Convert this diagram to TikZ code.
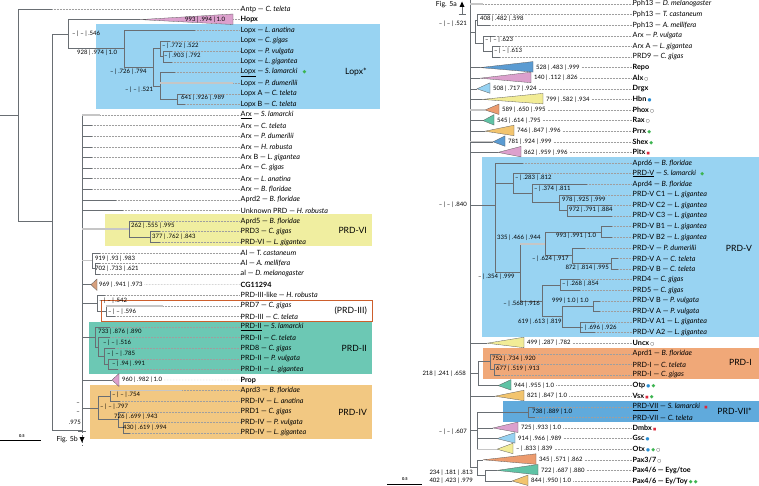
\documentclass[tikz,border=0pt]{standalone}
\usepackage{fontspec}
\setmainfont{Lato}
\newfontfamily\symf{DejaVu Sans}
\usetikzlibrary{calc}
\definecolor{bxblue}{RGB}{152,211,242}
\definecolor{bxyel}{RGB}{240,238,160}
\definecolor{bxteal}{RGB}{108,200,180}
\definecolor{bxtan}{RGB}{242,200,130}
\definecolor{bxsal}{RGB}{240,168,120}
\definecolor{bxvii}{RGB}{96,170,220}
\definecolor{bxorl}{RGB}{205,95,45}
\definecolor{tblue}{RGB}{90,155,210}
\definecolor{tpink}{RGB}{220,160,205}
\definecolor{tlblue}{RGB}{150,210,242}
\definecolor{tyel}{RGB}{242,236,150}
\definecolor{tsal}{RGB}{236,155,110}
\definecolor{tteal}{RGB}{95,195,165}
\definecolor{ttan}{RGB}{242,196,110}
\definecolor{tbrown}{RGB}{215,160,125}
\definecolor{dgreen}{RGB}{60,180,80}
\definecolor{dblue}{RGB}{40,140,210}
\definecolor{dred}{RGB}{220,40,60}
\definecolor{brgray}{RGB}{105,110,115}
\newcommand{\leaffont}{\fontsize{7.2}{8}\selectfont}
\newcommand{\suppfont}{\fontsize{6}{7}\selectfont}
\newcommand{\boxfont}{\fontsize{8.6}{10}\selectfont}
\newcommand{\spn}[1]{\textit{#1}}
\newcommand{\symGD}{\,{\symf\fontsize{5}{5}\selectfont\color{dgreen}◆}}
\newcommand{\symBC}{\,{\symf\fontsize{4.5}{5}\selectfont\color{dblue}●}}
\newcommand{\symOC}{\,{\symf\fontsize{4.5}{5}\selectfont ○}}
\newcommand{\symRS}{\,{\symf\fontsize{3.5}{5}\selectfont\color{dred}■}}
\newcommand{\lleaf}[4]{%
  \node[lab] (#1) at (240,{9+10.6*#2}) {#4};
  \coordinate (#1e) at (#3,{9+10.6*#2});
  \draw[dots] (#1e) -- (#1.west);}
\newcommand{\lname}[3]{%
  \node[lab] (#1) at (240,{9+10.6*#2}) {#3};}
\newcommand{\rleaf}[4]{%
  \node[lab] (#1) at (632,{4+10.6*#2}) {#4};
  \coordinate (#1e) at (#3,{4+10.6*#2});
  \draw[dots] (#1e) -- (#1.west);}
\newcommand{\rtri}[7]{%
  \node[lab] (#1) at (632,{4+10.6*#2}) {#7};
  \coordinate (#1a) at (#3,{4+10.6*#2});
  \filldraw[clade, fill=#5] (#1a) -- (#4,{4+10.6*#2-6}) -- (#4,{4+10.6*#2+4.5}) -- cycle;
  \node[supp] (#1s) at ({#4+3},{4+10.6*#2}) {#6};
  \draw[dots] ([xshift=2pt]#1s.east) -- (#1.west);}
\tikzset{
  br/.style={draw=brgray, line width=0.55pt},
  thk/.style={draw=gray!45, line width=1.4pt},
  dots/.style={draw=gray!75, line width=0.35pt, dash pattern=on 0.5pt off 1pt},
  lab/.style={anchor=west, inner sep=0.5pt, font=\leaffont},
  supp/.style={anchor=west, inner sep=0pt, font=\suppfont},
  suppr/.style={anchor=east, inner sep=0pt, font=\suppfont},
  boxlab/.style={anchor=east, inner sep=0pt, font=\boxfont},
  clade/.style={draw=black!65, line width=0.3pt},
  figlab/.style={anchor=east, inner sep=0pt, font=\fontsize{7}{8}\selectfont},
  scl/.style={inner sep=0pt, font=\bfseries\fontsize{4}{5}\selectfont}
}
\begin{document}
\begin{tikzpicture}[x=1pt,y=-1pt]
\useasboundingbox (0,0) rectangle (759,486);
% ---------- boxes ----------
\fill[bxblue] (96,24) rectangle (380,109);
\fill[bxyel] (105,214) rectangle (372,246);
\fill[bxteal] (89,322) rectangle (372,374);
\fill[bxtan] (90,385) rectangle (372,439);
\fill[bxblue] (482,157) rectangle (759,337);
\fill[bxsal] (483,348) rectangle (759,379);
\fill[bxvii] (503,401) rectangle (759,422);
\node[boxlab] (bl1) at (367,72) {Lopx*};
\node[boxlab] (bl2) at (367,230) {PRD-VI};
\node[boxlab] (bl3) at (367,311) {(PRD-III)};
\node[boxlab] (bl4) at (367,348) {PRD-II};
\node[boxlab] (bl5) at (367,412) {PRD-IV};
\node[boxlab] (bl6) at (752,248) {PRD-V};
\node[boxlab] (bl7) at (752,362) {PRD-I};
\node[boxlab] (bl8) at (752,411) {PRD-VII*};
% ---------- left tree: coordinates ----------
\coordinate (r0) at (0,115);
\coordinate (r) at (18,115);
\coordinate (n52) at (52,221);
\coordinate (n68) at (68,34.2);
\coordinate (hopxa) at (140,19.6);
\coordinate (nLopx) at (124,48.75);
\coordinate (n153) at (153,67.3);
\coordinate (n160a) at (160,48.75);
\coordinate (n163) at (163,56.7);
\coordinate (n160b) at (160,85.85);
\coordinate (n177) at (177,99.1);
\coordinate (nArx) at (82,430);
\coordinate (n129) at (129,228.95);
\coordinate (n150) at (150,236.9);
\coordinate (n92) at (92,260.75);
\coordinate (n95) at (95,268.7);
\coordinate (cga) at (91,284.6);
\coordinate (n97) at (97,303.15);
\coordinate (n106) at (106,311.1);
\coordinate (n95b) at (95,336.9);
\coordinate (n98) at (98,346.9);
\coordinate (n104) at (104,356.15);
\coordinate (n108) at (108.5,364.1);
\coordinate (propa) at (112,380);
\coordinate (n98b) at (98,407.8);
\coordinate (n110) at (110,395.9);
\coordinate (n118) at (118,419.75);
\coordinate (n123) at (123,427.7);
% ---------- left leaves ----------
\lleaf{antp}{0}{52}{Antp — \spn{C. teleta}}
\lleaf{hopx}{1}{233}{\textbf{Hopx}}
\lleaf{lo1}{2}{195}{Lopx — \spn{L. anatina}}
\lleaf{lo2}{3}{170}{Lopx — \spn{C. gigas}}
\lleaf{lo3}{4}{172}{Lopx — \spn{P. vulgata}}
\lleaf{lo4}{5}{172}{Lopx — \spn{L. gigantea}}
\lleaf{lo5}{6}{175}{\underline{Lopx} — \spn{S. lamarcki}\hspace{4pt}\symGD}
\lleaf{lo6}{7}{233}{Lopx — \spn{P. dumerilii}}
\lleaf{lo7}{8}{185}{Lopx A — \spn{C. teleta}}
\lleaf{lo8}{9}{185}{Lopx B — \spn{C. teleta}}
\lleaf{ax1}{10}{100}{\underline{Arx} — \spn{S. lamarcki}}
\lleaf{ax2}{11}{92}{Arx — \spn{C. teleta}}
\lleaf{ax3}{12}{92}{Arx — \spn{P. dumerilii}}
\lleaf{ax4}{13}{92}{Arx — \spn{H. robusta}}
\lleaf{ax5}{14}{92}{Arx B — \spn{L. gigantea}}
\lleaf{ax6}{15}{92}{Arx — \spn{C. gigas}}
\lleaf{ax7}{16}{92}{Arx — \spn{L. anatina}}
\lleaf{ax8}{17}{92}{Arx — \spn{B. floridae}}
\lleaf{ap2}{18}{116}{Aprd2 — \spn{B. floridae}}
\lleaf{unk}{19}{123}{Unknown PRD — \spn{H. robusta}}
\lleaf{ap5}{20}{150}{Aprd5 — \spn{B. floridae}}
\lleaf{prd3}{21}{160}{PRD3 — \spn{C. gigas}}
\lleaf{prd6}{22}{160}{PRD-VI — \spn{L. gigantea}}
\lleaf{al1}{23}{100}{Al — \spn{T. castaneum}}
\lleaf{al2}{24}{100}{Al — \spn{A. mellifera}}
\lleaf{al3}{25}{100}{al — \spn{D. melanogaster}}
\lname{cg}{26}{\textbf{CG11294}}
\lleaf{p3a}{27}{105}{PRD-III-like — \spn{H. robusta}}
\lleaf{p3b}{28}{163}{PRD7 — \spn{C. gigas}}
\lleaf{p3c}{29}{115}{PRD-III — \spn{C. teleta}}
\lleaf{p2a}{30}{110}{\underline{PRD-II} — \spn{S. lamarcki}}
\lleaf{p2b}{31}{110}{PRD-II — \spn{C. teleta}}
\lleaf{p2c}{32}{115}{PRD8 — \spn{C. gigas}}
\lleaf{p2d}{33}{118}{PRD-II — \spn{P. vulgata}}
\lleaf{p2e}{34}{118}{PRD-II — \spn{L. gigantea}}
\lname{prop}{35}{\textbf{Prop}}
\lleaf{p4a}{36}{182}{Aprd3 — \spn{B. floridae}}
\lleaf{p4b}{37}{120}{PRD-IV — \spn{L. anatina}}
\lleaf{p4c}{38}{125}{PRD1 — \spn{C. gigas}}
\lleaf{p4d}{39}{130}{PRD-IV — \spn{P. vulgata}}
\lleaf{p4e}{40}{130}{PRD-IV — \spn{L. gigantea}}
% ---------- left branches ----------
\draw[br] (r0) -- (r);
\draw[br] (r) |- (antpe);
\draw[br] (r) |- (n52);
\draw[br] (n52) |- (n68);
\draw[br] (n52) |- (nArx);
\draw[br] (n68) |- (hopxa);
\draw[br] (n68) |- (nLopx);
\draw[br] (nLopx) |- (lo1e);
\draw[br] (nLopx) |- (n153);
\draw[br] (n153) |- (n160a);
\draw[br] (n153) |- (n160b);
\draw[br] (n160a) |- (lo2e);
\draw[br] (n160a) |- (n163);
\draw[br] (n163) |- (lo3e);
\draw[br] (n163) |- (lo4e);
\draw[br] (n160b) |- (lo5e);
\draw[br] (n160b) |- (lo6e);
\draw[br] (n160b) |- (n177);
\draw[br] (n177) |- (lo7e);
\draw[br] (n177) |- (lo8e);
\foreach \a in {ax1e,ax2e,ax3e,ax4e,ax5e,ax6e,ax7e,ax8e,ap2e,unke,n129,n92,cga,n97,n95b,propa,n98b}
  \draw[br] (nArx) |- (\a);
\draw[br] (n129) |- (ap5e);
\draw[br] (n129) |- (n150);
\draw[br] (n150) |- (prd3e);
\draw[br] (n150) |- (prd6e);
\draw[br] (n92) |- (al1e);
\draw[br] (n92) |- (n95);
\draw[br] (n95) |- (al2e);
\draw[br] (n95) |- (al3e);
\draw[br] (n97) |- (p3ae);
\draw[br] (n97) |- (n106);
\draw[br] (n106) |- (p3be);
\draw[br] (n106) |- (p3ce);
\draw[br] (n95b) |- (p2ae);
\draw[br] (n95b) |- (n98);
\draw[br] (n98) |- (p2be);
\draw[br] (n98) |- (n104);
\draw[br] (n104) |- (p2ce);
\draw[br] (n104) |- (n108);
\draw[br] (n108) |- (p2de);
\draw[br] (n108) |- (p2ee);
\draw[br] (n98b) |- (n110);
\draw[br] (n98b) |- (n118);
\draw[br] (n110) |- (p4ae);
\draw[br] (n110) |- (p4be);
\draw[br] (n118) |- (p4ce);
\draw[br] (n118) |- (n123);
\draw[br] (n123) |- (p4de);
\draw[br] (n123) |- (p4ee);
\draw[thk] (nArx |- ax1e) -- (ax1e);
\draw[thk] (n160b |- lo6e) -- (lo6e);
\draw[thk] (nArx |- n129) -- (n129);
\draw[thk] (nArx |- n92) -- (n92);
\draw[thk] (n106 |- p3be) -- (p3be);
\draw[thk] (n110 |- p4ae) -- (p4ae);
\draw[bxorl, line width=0.6pt] (101,300) rectangle (372,321);
% left triangles
\filldraw[clade, fill=tpink] (hopxa) -- (233,14) -- (233,24.5) -- cycle;
\filldraw[clade, fill=tbrown] (cga) -- (97,279) -- (97,290.5) -- cycle;
\filldraw[clade, fill=tpink] (propa) -- (119,373.5) -- (119,386.5) -- cycle;
% left support values
\node[supp] (s1) at (185,19.6) {993 | .994 | 1.0};
\node[supp] (s2) at (72,34) {– | – | .546};
\node[supp] (s3) at (77,53) {928 | .974 | 1.0};
\node[supp] (s4) at (162,45.5) {– | .772 | .522};
\node[supp] (s5) at (164,56) {– | .903 | .792};
\node[supp] (s6) at (110,72) {– | .726 | .794};
\node[supp] (s7) at (125,90) {– | – | .521};
\node[supp] (s8) at (181,98) {641 | .926 | .989};
\node[supp] (s9) at (131,226) {262 | .555 | .995};
\node[supp] (s10) at (152,237) {377 | .762 | .843};
\node[supp] (s11) at (95,258.5) {919 | .93 | .983};
\node[supp] (s12) at (95,269) {702 | .733 | .621};
\node[supp] (cgs) at (99,284.6) {969 | .941 | .973};
\node[supp] (s13) at (99,300.5) {– | – | .542};
\node[supp] (s14) at (108,311.5) {– | – | .596};
\node[supp] (s15) at (98,332) {733 | .876 | .890};
\node[supp] (s16) at (103,343) {– | – | .516};
\node[supp] (s17) at (107,353.5) {– | – | .785};
\node[supp] (s18) at (112,364) {– | .94 | .991};
\node[supp] (props) at (122,380) {960 | .982 | 1.0};
\node[supp] (s19) at (112,395) {– | – | .754};
\node[supp] (s20) at (100,407) {– | – | .797};
\node[supp] (s21) at (114,417) {726 | .699 | .943};
\node[supp] (s22) at (123,428) {430 | .619 | .994};
\node[suppr] (s23) at (80,404) {–};
\node[suppr] (s24) at (80,413) {–};
\node[suppr] (s25) at (81,422) {.975};
\draw[dots] ([xshift=2pt]cgs.east) -- (cg.west);
\draw[dots] ([xshift=2pt]props.east) -- (prop.west);
% Fig. 5b continuation
\coordinate (f5b) at (82,446);
\draw[br, densely dashed] (nArx) -- (f5b);
\draw[br] (78,431) -- (86,431);
\fill[black] (79.5,437) -- (84.5,437) -- (82,442.5) -- cycle;
\node[figlab] (fig5b) at (78,440) {Fig. 5b};
% scale bar left
\coordinate (sb1) at (0,440);
\coordinate (sb2) at (41,440);
\draw[br, black] (sb1) -- (sb2);
\node[scl] (sbl) at (22,436) {0.5};
% ---------- right tree: coordinates ----------
\coordinate (nBtop) at (470,0);
\coordinate (nB) at (470,467.75);
\coordinate (nS) at (475,31.8);
\coordinate (nP) at (477,19.9);
\coordinate (nQ) at (483,43.75);
\coordinate (nR) at (492,51.7);
\coordinate (nV) at (495,205);
\coordinate (nX) at (513,183.55);
\coordinate (nY) at (532,193.5);
\coordinate (nZ) at (559,202.75);
\coordinate (nZ2) at (567,210.7);
\coordinate (nAA) at (520,272.3);
\coordinate (nBB) at (545,243.8);
\coordinate (nBB1) at (601,231.9);
\coordinate (nDD) at (572,255.75);
\coordinate (nEE) at (611,263.7);
\coordinate (nFF) at (542,300.8);
\coordinate (nGG) at (560,284.9);
\coordinate (nHH) at (562,316.7);
\coordinate (nII) at (593,306.1);
\coordinate (nJJ) at (580,327.3);
\coordinate (nMM) at (478,373.7);
\coordinate (nKK) at (490,361.75);
\coordinate (nLL) at (494,369.7);
\coordinate (nNN) at (477,430.65);
\coordinate (nOO) at (528,412.1);
\coordinate (nT) at (477,467.75);
\coordinate (nU) at (485,475.7);
% ---------- right leaves ----------
\rleaf{ph1}{0}{483}{Pph13 — \spn{D. melanogaster}}
\rleaf{ph2}{1}{490}{Pph13 — \spn{T. castaneum}}
\rleaf{ph3}{2}{490}{Pph13 — \spn{A. mellifera}}
\rleaf{ra1}{3}{495}{Arx — \spn{P. vulgata}}
\rleaf{ra2}{4}{500}{Arx A — \spn{L. gigantea}}
\rleaf{ra3}{5}{500}{PRD9 — \spn{C. gigas}}
\rleaf{v1}{15}{523}{Aprd6 — \spn{B. floridae}}
\rleaf{v2}{16}{540}{\underline{PRD-V} — \spn{S. lamarcki}\hspace{3pt}\symGD}
\rleaf{v3}{17}{587}{Aprd4 — \spn{B. floridae}}
\rleaf{v4}{18}{600}{PRD-V C1 — \spn{L. gigantea}}
\rleaf{v5}{19}{612}{PRD-V C2 — \spn{L. gigantea}}
\rleaf{v6}{20}{612}{PRD-V C3 — \spn{L. gigantea}}
\rleaf{v7}{21}{612}{PRD-V B1 — \spn{L. gigantea}}
\rleaf{v8}{22}{612}{PRD-V B2 — \spn{L. gigantea}}
\rleaf{v9}{23}{585}{PRD-V — \spn{P. dumerilii}}
\rleaf{v10}{24}{618}{PRD-V A — \spn{C. teleta}}
\rleaf{v11}{25}{618}{PRD-V B — \spn{C. teleta}}
\rleaf{v12}{26}{580}{PRD4 — \spn{C. gigas}}
\rleaf{v13}{27}{580}{PRD5 — \spn{C. gigas}}
\rleaf{v14}{28}{600}{PRD-V B — \spn{P. vulgata}}
\rleaf{v15}{29}{600}{PRD-V A — \spn{P. vulgata}}
\rleaf{v16}{30}{595}{PRD-V A1 — \spn{L. gigantea}}
\rleaf{v17}{31}{595}{PRD-V A2 — \spn{L. gigantea}}
\rleaf{i1}{33}{500}{Aprd1 — \spn{B. floridae}}
\rleaf{i2}{34}{500}{PRD-I — \spn{C. teleta}}
\rleaf{i3}{35}{500}{PRD-I — \spn{C. gigas}}
\rleaf{vii1}{38}{535}{\underline{PRD-VII} — \spn{S. lamarcki}\hspace{3pt}\symRS}
\rleaf{vii2}{39}{535}{PRD-VII — \spn{C. teleta}}
% ---------- right branches ----------
\draw[br] (nBtop) -- (nB);
\foreach \a in {ph1e,nS,nV,nMM,nNN,nT}
  \draw[br] (nB) |- (\a);
\draw[br] (nS) |- (nP);
\draw[br] (nS) |- (nQ);
\draw[br] (nP) |- (ph2e);
\draw[br] (nP) |- (ph3e);
\draw[br] (nQ) |- (ra1e);
\draw[br] (nQ) |- (nR);
\draw[br] (nR) |- (ra2e);
\draw[br] (nR) |- (ra3e);
\draw[br] (nV) |- (v1e);
\draw[br] (nV) |- (nX);
\draw[br] (nV) |- (nAA);
\draw[br] (nX) |- (v2e);
\draw[br] (nX) |- (nY);
\draw[br] (nY) |- (v3e);
\draw[br] (nY) |- (nZ);
\draw[br] (nZ) |- (v4e);
\draw[br] (nZ) |- (nZ2);
\draw[br] (nZ2) |- (v5e);
\draw[br] (nZ2) |- (v6e);
\draw[br] (nAA) |- (nBB);
\draw[br] (nAA) |- (nFF);
\draw[br] (nBB) |- (nBB1);
\draw[br] (nBB) |- (nDD);
\draw[br] (nBB1) |- (v7e);
\draw[br] (nBB1) |- (v8e);
\draw[br] (nDD) |- (v9e);
\draw[br] (nDD) |- (nEE);
\draw[br] (nEE) |- (v10e);
\draw[br] (nEE) |- (v11e);
\draw[br] (nFF) |- (nGG);
\draw[br] (nFF) |- (nHH);
\draw[br] (nGG) |- (v12e);
\draw[br] (nGG) |- (v13e);
\draw[br] (nHH) |- (nII);
\draw[br] (nHH) |- (nJJ);
\draw[br] (nII) |- (v14e);
\draw[br] (nII) |- (v15e);
\draw[br] (nJJ) |- (v16e);
\draw[br] (nJJ) |- (v17e);
\draw[br] (nMM) |- (nKK);
\draw[br] (nKK) |- (i1e);
\draw[br] (nKK) |- (nLL);
\draw[br] (nLL) |- (i2e);
\draw[br] (nLL) |- (i3e);
\draw[br] (nNN) |- (nOO);
\draw[br] (nOO) |- (vii1e);
\draw[br] (nOO) |- (vii2e);
\draw[br] (nT) |- (nU);
% triangle clades
\rtri{repo}{6}{480}{533}{tblue}{528 | .483 | .999}{\textbf{Repo}}
\rtri{alx}{7}{480}{531}{tpink}{140 | .112 | .826}{\textbf{Alx}\symOC}
\rtri{drgx}{8}{477}{490}{tlblue}{508 | .717 | .924}{\textbf{Drgx}}
\rtri{hbn}{9}{482}{543}{tyel}{799 | .582 | .934}{\textbf{Hbn}\symBC}
\rtri{phox}{10}{485}{499}{tsal}{589 | .650 | .995}{\textbf{Phox}\symOC}
\rtri{rax}{11}{483}{494}{tteal}{545 | .614 | .795}{\textbf{Rax}\symOC}
\rtri{prrx}{12}{485}{514}{ttan}{746 | .847 | .996}{\textbf{Prrx}\symGD}
\rtri{shex}{13}{493}{505}{tblue}{781 | .924 | .999}{\textbf{Shex}\symGD}
\rtri{pitx}{14}{498}{521}{tpink}{862 | .959 | .996}{\textbf{Pitx}\symRS}
\rtri{uncx}{32}{487}{524}{tyel}{499 | .287 | .782}{\textbf{Uncx}\symOC}
\rtri{otp}{36}{498}{511}{tteal}{944 | .955 | 1.0}{\textbf{Otp}\symBC\symGD}
\rtri{vsx}{37}{495}{524}{ttan}{821 | .847 | 1.0}{\textbf{Vsx}\symRS\symGD}
\rtri{dmbx}{40}{493}{518}{tpink}{725 | .933 | 1.0}{\textbf{Dmbx}\symRS}
\rtri{gsc}{41}{497}{515}{tlblue}{914 | .966 | .989}{\textbf{Gsc}\symBC}
\rtri{otx}{42}{497}{513}{tyel}{– | .833 | .839}{\textbf{Otx}\symBC\symGD\symOC}
\rtri{pax}{43}{483}{536}{tsal}{345 | .571 | .862}{\textbf{Pax3/7}\symOC}
\rtri{eyg}{44}{497}{538}{tteal}{722 | .687 | .880}{\textbf{Pax4/6 — Eyg/toe}}
\rtri{eyt}{45}{512}{528}{ttan}{844 | .950 | 1.0}{\textbf{Pax4/6 — Ey/Toy}\symGD\symGD}
\foreach \a in {repoa,alxa,drgxa,hbna,phoxa,raxa,prrxa,shexa,pitxa,uncxa,vsxa}
  \draw[br] (nB) |- (\a);
\draw[br] (nMM) |- (otpa);
\draw[br] (nNN) |- (dmbxa);
\draw[br] (nNN) |- (gsca);
\draw[br] (nNN) |- (otxa);
\draw[br] (nT) |- (paxa);
\draw[br] (nU) |- (eyga);
\draw[br] (nU) |- (eyta);
\draw[thk] (nB |- ph1e) -- (ph1e);
\draw[thk] (nB |- phoxa) -- (phoxa);
\draw[thk] (nB |- shexa) -- (shexa);
\draw[thk] (nNN |- otxa) -- (otxa);
\draw[thk] (nAA |- nBB) -- (nBB);
% right support values
\node[suppr] (t1) at (467,24) {– | – | .521};
\node[supp] (t2) at (480,18.5) {408 | .482 | .598};
\node[supp] (t3) at (485,40) {– | – | .623};
\node[supp] (t4) at (494,51) {– | – | .613};
\node[suppr] (t5) at (467,205) {– | – | .840};
\node[supp] (t6) at (515,178) {– | .283 | .812};
\node[supp] (t7) at (534,189) {– | .374 | .811};
\node[supp] (t8) at (562,199.5) {978 | .925 | .999};
\node[supp] (t9) at (569,210) {972 | .791 | .884};
\node[supp] (t10) at (497,238) {335 | .466 | .944};
\node[supp] (t11) at (556,236) {993 | .991 | 1.0};
\node[supp] (t12) at (532,259) {– | .624 | .917};
\node[suppr] (t13) at (609,267.5) {872 | .814 | .995};
\node[supp] (t14) at (478,277) {– | .354 | .999};
\node[supp] (t15) at (562,284) {– | .268 | .854};
\node[suppr] (t16) at (540,304) {– | .568 | .916};
\node[supp] (t17) at (552,300.5) {999 | 1.0 | 1.0};
\node[supp] (t18) at (518,322) {619 | .613 | .819};
\node[supp] (t19) at (580,327.5) {– | .696 | .926};
\node[supp] (t20) at (492,359) {752 | .734 | .920};
\node[supp] (t21) at (496,369) {677 | .519 | .913};
\node[suppr] (t22) at (466,374) {218 | .241 | .658};
\node[supp] (t23) at (532,412) {738 | .889 | 1.0};
\node[suppr] (t24) at (467,432) {– | – | .607};
\node[suppr] (t25) at (473,473) {234 | .181 | .813};
\node[suppr] (t26) at (473,481) {402 | .423 | .979};
% Fig. 5a continuation
\fill[black] (459.5,7) -- (464.5,7) -- (462,1.5) -- cycle;
\draw[br] (462,7) -- (462,14);
\draw[br] (458.5,14) -- (465.5,14);
\node[figlab] (fig5a) at (457,5) {Fig. 5a};
% scale bar right
\coordinate (sb3) at (387,484);
\coordinate (sb4) at (422,484);
\draw[br, black] (sb3) -- (sb4);
\node[scl] (sbr) at (405,479) {0.5};
\end{tikzpicture}
\end{document}
